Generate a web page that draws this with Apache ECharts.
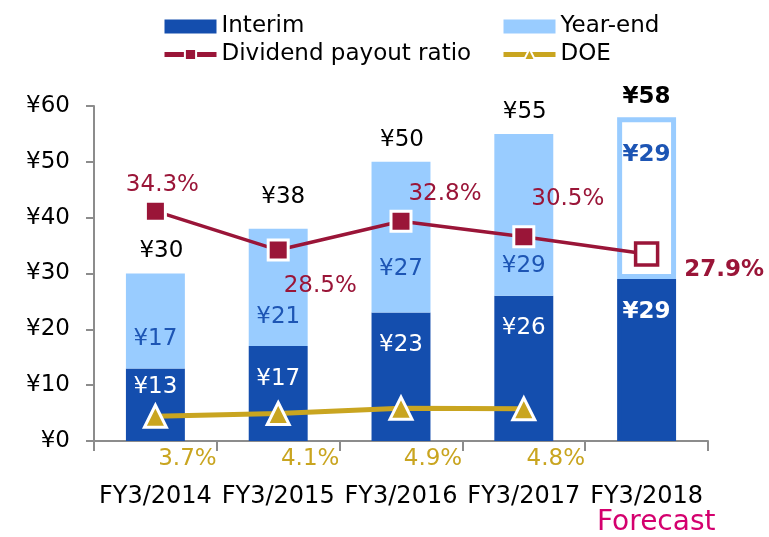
<!DOCTYPE html>
<html><head><meta charset="utf-8">
<script src="https://cdn.jsdelivr.net/npm/echarts@6/dist/echarts.min.js"></script>
<style>html,body{margin:0;padding:0;background:#fff}#c{width:769px;height:537px}</style>
</head><body><div id="c"></div>
<script>
// ---- data ----
const categories = ['FY3/2014', 'FY3/2015', 'FY3/2016', 'FY3/2017', 'FY3/2018'];
const interim = [13, 17, 23, 26, 29];
const yearEnd = [17, 21, 27, 29, 29];
const totals = [30, 38, 50, 55, 58];
const payoutRatio = [34.3, 28.5, 32.8, 30.5, 27.9];
const doe = [3.7, 4.1, 4.9, 4.8, null];
const yMin = 0, yMax = 60, yStep = 10;
const forecastText = 'Forecast';

// ---- styles ----
const C = { interim: '#144eae', yearEnd: '#99ccff', payout: '#9a1538', doe: '#c9a520',
  axis: '#8c8c8c', yeLabel: '#1d55b4', fc: '#d4006e' };
const F = 'DejaVu Sans';
const last = categories.length - 1;

const interimData = interim.map((v, i) => {
  const d = { value: v };
  if (i === 0) d.label = { distance: 7 };
  if (i === last) { d.itemStyle = { borderColor: C.interim, borderWidth: 4 }; d.label = { fontWeight: 'bold' }; }
  return d;
});
const yearEndData = yearEnd.map((v, i) => {
  const d = { value: v };
  if (i === 2) d.label = { distance: 32 };
  if (i === last) {
    d.itemStyle = { color: '#ffffff', borderColor: C.yearEnd, borderWidth: 5 };
    d.label = { position: 'insideTop', distance: 26, fontWeight: 'bold' };
  }
  return d;
});
const totalOffsets = [[6, -5], [5, -15], [1, -5], [1, -5], [0, -3]];
const totalData = totals.map((v, i) => {
  const d = { value: v, label: { offset: totalOffsets[i] } };
  if (i === last) d.label.fontWeight = 'bold';
  return d;
});
const payoutLabelPos = [
  { position: 'top', offset: [7, 2] },
  { position: 'bottom', offset: [42, 8] },
  { position: 'top', offset: [44, 1] },
  { position: 'top', offset: [44, -10] },
  { position: 'right', offset: [20, 16], fontWeight: 'bold' }
];
const payoutData = payoutRatio.map((v, i) => {
  const d = { value: v, label: payoutLabelPos[i] };
  if (i === last) {
    d.symbolSize = 22;
    d.itemStyle = { color: '#ffffff', borderColor: C.payout, borderWidth: 3.5 };
  }
  return d;
});

const legendCommon = {
  orient: 'vertical', top: 10, itemWidth: 52, itemHeight: 14, itemGap: 5,
  lineStyle: { width: 5 },
  textStyle: { fontSize: 23, color: '#000', fontFamily: F }
};

const chart = echarts.init(document.getElementById('c'), null, { renderer: 'canvas' });
chart.setOption({
  animation: false,
  backgroundColor: '#ffffff',
  textStyle: { fontFamily: F },
  grid: { left: 94, right: 61, top: 106, bottom: 96, containLabel: false, outerBoundsMode: 'none' },
  legend: [
    Object.assign({ data: [{ name: 'Interim', icon: 'rect' }, 'Dividend payout ratio'], left: 157 }, legendCommon),
    Object.assign({ data: [{ name: 'Year-end', icon: 'rect' }, 'DOE'], left: 496 }, legendCommon)
  ],
  xAxis: [
    { type: 'category', data: categories,
      axisLine: { show: true, lineStyle: { color: C.axis, width: 2 } },
      axisTick: { show: true, length: 10, lineStyle: { color: C.axis, width: 2 } },
      axisLabel: { interval: 0, margin: 44, fontSize: 24, color: '#000', fontFamily: F },
      splitLine: { show: false } },
    { type: 'category', data: categories, position: 'bottom', offset: 0,
      axisLine: { show: false }, axisTick: { show: false }, splitLine: { show: false },
      axisLabel: { interval: 0, margin: 7, fontSize: 23, color: C.doe, fontFamily: F, padding: [0, 0, 0, 64],
        formatter: (v, i) => doe[i] == null ? '' : doe[i].toFixed(1) + '%' } }
  ],
  yAxis: [
    { type: 'value', min: yMin, max: yMax, interval: yStep,
      axisLine: { show: true, lineStyle: { color: C.axis, width: 2 } },
      axisTick: { show: true, length: 8, lineStyle: { color: C.axis, width: 2 } },
      axisLabel: { fontSize: 23, color: '#000', margin: 24, fontFamily: F, formatter: '¥{value}' },
      splitLine: { show: false } },
    { type: 'value', min: 0, max: 50, show: false, splitLine: { show: false } }
  ],
  graphic: [
    { type: 'text', left: 597, top: 509, silent: true,
      style: { text: forecastText, fill: C.fc, fontSize: 28, fontFamily: F } }
  ],
  series: [
    { name: 'Interim', type: 'bar', stack: 'div', barWidth: '48%', data: interimData,
      itemStyle: { color: C.interim },
      label: { show: true, position: 'insideTop', distance: 21, color: '#ffffff', fontSize: 23, fontFamily: F, formatter: '¥{c}' } },
    { name: 'Year-end', type: 'bar', stack: 'div', barWidth: '48%', data: yearEndData,
      itemStyle: { color: C.yearEnd },
      label: { show: true, position: 'insideBottom', distance: 18, color: C.yeLabel, fontSize: 23, fontFamily: F, formatter: '¥{c}' } },
    { name: 'Total', type: 'scatter', data: totalData, symbolSize: 1, silent: true,
      itemStyle: { color: 'rgba(0,0,0,0)', opacity: 1 },
      label: { show: true, position: 'top', distance: 5, color: '#000', opacity: 1, fontSize: 23, fontFamily: F, formatter: '¥{c}' } },
    { name: 'Dividend payout ratio', type: 'line', yAxisIndex: 1, data: payoutData, symbol: 'rect', symbolSize: 20, z: 5,
      lineStyle: { color: C.payout, width: 3.5 },
      itemStyle: { color: C.payout, borderColor: '#ffffff', borderWidth: 3 },
      label: { show: true, color: C.payout, fontSize: 23, fontFamily: F, formatter: p => p.value.toFixed(1) + '%' } },
    { name: 'DOE', type: 'line', yAxisIndex: 1, data: doe, symbol: 'triangle', symbolSize: 22, z: 5,
      lineStyle: { color: C.doe, width: 5 },
      itemStyle: { color: C.doe, borderColor: '#ffffff', borderWidth: 3 },
      label: { show: false } }
  ]
});
</script>
</body></html>
